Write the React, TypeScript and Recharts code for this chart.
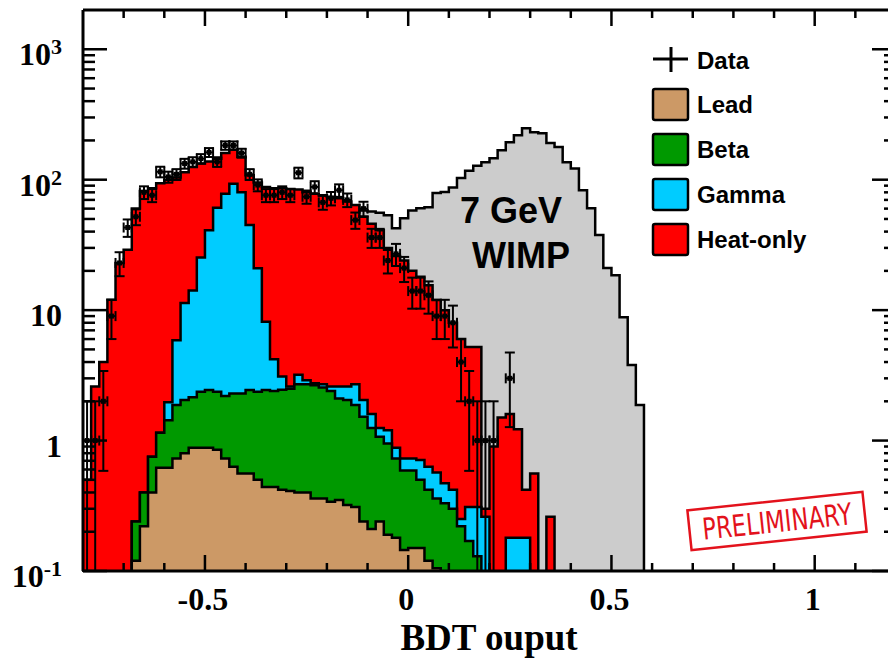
import React from 'react';
import { ComposedChart, Area, Scatter, XAxis, YAxis, ErrorBar } from 'recharts';

// ---- binning (bin width 0.02 starting at -0.8) ----
const BIN_START = -0.8;
const BIN_WIDTH = 0.02;

// ---- stacked background components (events per bin) ----
const lead = [
  0, 0, 0, 0, 0, 0, 0.12, 0.22, 0.4, 0.62,
  0.62, 0.73, 0.8, 0.88, 0.88, 0.88, 0.85, 0.73, 0.63, 0.56,
  0.56, 0.5, 0.44, 0.44, 0.42, 0.41, 0.4, 0.4, 0.36, 0.36,
  0.34, 0.35, 0.32, 0.31, 0.24, 0.21, 0.24, 0.19, 0.18, 0.145,
  0.15, 0.15, 0.12, 0.105, 0, 0, 0, 0, 0, 0,
  0, 0, 0, 0, 0, 0, 0, 0, 0, 0,
  0, 0, 0, 0, 0, 0, 0, 0, 0,
];
const beta = [
  0, 0, 0, 0, 0, 0, 0.12, 0.18, 0.35, 0.53,
  0.81, 1.14, 1.25, 1.27, 1.49, 1.56, 1.52, 1.47, 1.67, 1.74,
  1.88, 1.87, 2.0, 1.96, 2.03, 2.09, 2.3, 2.3, 2.29, 2.19,
  2.06, 1.75, 1.73, 1.56, 1.28, 1.04, 0.83, 0.76, 0.55, 0.445,
  0.44, 0.35, 0.3, 0.255, 0.33, 0.3, 0.22, 0.17, 0.13, 0,
  0, 0, 0, 0, 0, 0, 0, 0, 0, 0,
  0, 0, 0, 0, 0, 0, 0, 0, 0,
];
const gamma = [
  0, 0, 0, 0, 0, 0, 0, 0, 0, 0,
  0.54, 4.0, 9.3, 12, 23, 38.6, 58.6, 75.8, 90.7, 77.7,
  42.6, 18.6, 5.7, 1.8, 0.65, 0.1, 0.5, 0.2, 0.1, 0.15,
  0.2, 0.5, 0.55, 0.83, 0.53, 0.35, 0.18, 0.25, 0.15, 0.14,
  0.14, 0.21, 0.21, 0.21, 0.14, 0.12, 0.03, 0.14, 0.18, 0.26,
  0, 0, 0.18, 0.18, 0.18, 0, 0, 0, 0, 0,
  0, 0, 0, 0, 0, 0, 0, 0, 0,
];
const heatOnly = [
  0.5, 2.6, 4.0, 12, 23, 29, 59.8, 81.6, 85.3, 92.9,
  98, 98.1, 102.7, 110.8, 107.5, 97, 84, 82, 77, 70,
  63, 74, 79.9, 81.8, 82.9, 82.4, 80.8, 77.1, 75.3, 73.3,
  71.4, 69.4, 65.4, 61.3, 50, 44.4, 39.8, 28.8, 25.1, 23.3,
  19.3, 17.3, 14.9, 11.4, 9.5, 7.6, 5.75, 4.9, 4.9, 0.04,
  0.9, 1.5, 1.42, 1.04, 0.24, 0.56, 0, 0.26, 0, 0,
  0, 0, 0, 0, 0, 0, 0, 0, 0,
];
const wimp7GeV = [
  0, 0, 0, 0, 0, 0, 0, 0, 0, 0,
  0, 0, 0, 0, 0, 0, 0, 0, 0, 0,
  0, 0, 0, 0, 0, 0, 0, 0, 0, 0,
  0, 0, 0, 58, 58, 57, 55.7, 53.5, 42.5, 50.7,
  58, 60.5, 61.5, 79, 80.5, 87, 103, 117, 128, 136,
  146, 168, 194, 219, 248, 231, 227, 191, 178, 136,
  122, 83, 60.5, 37.6, 21, 18.5, 8.8, 3.8, 1.87,
];
// ---- observed data counts per bin ----
const dataCounts = [
  1, 1, 2, 9, 23, 43, 52, 80, 76, 115,
  105, 110, 133, 137, 145, 162, 137, 183, 183, 160,
  110, 91, 76, 76, 80, 76, 113, 74, 88, 67,
  72, 83, 70, 49, 60, 36, 36, 24, 27, 21,
  14, 14, 13, 9, 9, 8, 4, 2, 1, 1,
  1, 0, 3,
];

// ---- ticks ----
const xTicks = [-0.7, -0.6, -0.5, -0.4, -0.3, -0.2, -0.1, 0, 0.1, 0.2, 0.3, 0.4, 0.5, 0.6, 0.7, 0.8, 0.9, 1.0, 1.1];
const xMajorTicks = [-0.5, 0, 0.5, 1];
const xTickLabels = ['-0.5', '0', '0.5', '1'];
const yTicks = [
  0.1, 0.2, 0.3, 0.4, 0.5, 0.6, 0.7, 0.8, 0.9,
  1, 2, 3, 4, 5, 6, 7, 8, 9,
  10, 20, 30, 40, 50, 60, 70, 80, 90,
  100, 200, 300, 400, 500, 600, 700, 800, 900,
  1000,
];
const yMajorTicks = [0.1, 1, 10, 100, 1000];
const yTickLabels = [
  { base: '10', exp: '-1' },
  { base: '1', exp: '' },
  { base: '10', exp: '' },
  { base: '10', exp: '2' },
  { base: '10', exp: '3' },
];

const legendLabels = ['Lead', 'Beta', 'Gamma', 'Heat-only'];
const COLORS = {
  lead: '#CC9966',
  beta: '#009900',
  gamma: '#00CCFF',
  heat: '#FF0000',
  wimp: '#CCCCCC',
};
const legendColors = [COLORS.lead, COLORS.beta, COLORS.gamma, COLORS.heat];

const FLOOR = 0.01;
const pos = (v: number) => (v > 1e-6 ? v : FLOOR);

const histRows: any[] = [];
for (let i = 0; i <= lead.length; i++) {
  const x = +(BIN_START + i * BIN_WIDTH).toFixed(2);
  if (i === lead.length) {
    histRows.push({ x, leadTop: FLOOR, betaTop: FLOOR, gammaTop: FLOOR, total: FLOOR, wimp: FLOOR });
    continue;
  }
  const l = lead[i];
  const b = l + beta[i];
  const g = b + gamma[i];
  const t = g + heatOnly[i];
  histRows.push({ x, leadTop: pos(l), betaTop: pos(b), gammaTop: pos(g), total: pos(t), wimp: pos(wimp7GeV[i]) });
}

const dataPoints = dataCounts
  .map((n, i) => ({
    x: +(BIN_START + (i + 0.5) * BIN_WIDTH).toFixed(3),
    y: n,
    ey: [n - Math.max(n - Math.sqrt(n), 0.1), Math.sqrt(n)],
    ex: BIN_WIDTH / 2,
  }))
  .filter((p) => p.y > 0);

const SERIF = "'Liberation Serif', 'Times New Roman', serif";
const SANS = "'Liberation Sans', Arial, Helvetica, sans-serif";

const isMajor = (arr: number[], v: number) => arr.findIndex((m) => Math.abs(m - v) < 1e-6 * Math.max(1, Math.abs(m)));

const BottomTick = (props: any) => {
  const { x, y, payload } = props;
  const idx = isMajor(xMajorTicks, payload.value);
  const major = idx >= 0;
  return (
    <g>
      <line x1={x} x2={x} y1={y} y2={y - (major ? 16 : 8)} stroke="#000" strokeWidth={2.5} />
      {major && (
        <text x={x - 2} y={y + 39} textAnchor="middle" fontFamily={SERIF} fontWeight="bold" fontSize={32} fill="#000">
          {xTickLabels[idx]}
        </text>
      )}
    </g>
  );
};

const TopTick = (props: any) => {
  const { x, y, payload } = props;
  const major = isMajor(xMajorTicks, payload.value) >= 0;
  return <line x1={x} x2={x} y1={y} y2={y + (major ? 16 : 8)} stroke="#000" strokeWidth={2.5} />;
};

const LeftTick = (props: any) => {
  const { x, y, payload } = props;
  const idx = isMajor(yMajorTicks, payload.value);
  const major = idx >= 0;
  const lab = major ? yTickLabels[idx] : null;
  return (
    <g>
      <line x1={x} x2={x + (major ? 24 : 12)} y1={y} y2={y} stroke="#000" strokeWidth={2.5} />
      {lab && (
        <text x={x - 21} y={y + 16} textAnchor="end" fontFamily={SERIF} fontWeight="bold" fontSize={32} fill="#000">
          {lab.base}
          {lab.exp ? (
            <tspan dy={-11} fontSize={22}>
              {lab.exp}
            </tspan>
          ) : null}
        </text>
      )}
    </g>
  );
};

const RightTick = (props: any) => {
  const { x, y, payload } = props;
  const major = isMajor(yMajorTicks, payload.value) >= 0;
  return <line x1={x} x2={x - (major ? 24 : 12)} y1={y} y2={y} stroke="#000" strokeWidth={2.5} />;
};

const DataMarker = (props: any) => {
  const { cx, cy } = props;
  if (cx == null || cy == null) return <g />;
  return <rect x={cx - 2.5} y={cy - 2.5} width={5} height={5} fill="#000" />;
};

const NoMarker = () => <g />;

const axisLine = { stroke: '#000', strokeWidth: 3 };

export default function App() {
  return (
    <div style={{ position: 'absolute', left: 0, top: 0, width: 888, height: 659, overflow: 'hidden', background: '#fff' }}>
      <ComposedChart width={904} height={659} data={histRows} margin={{ top: 9, right: 7, bottom: 87, left: 82 }}>
        <XAxis
          xAxisId={0}
          dataKey="x"
          type="number"
          domain={[-0.8, 1.2]}
          allowDataOverflow
          ticks={xTicks}
          interval={0}
          height={1}
          tickSize={0}
          tickMargin={0}
          tickLine={false}
          axisLine={axisLine}
          tick={(p: any) => <BottomTick {...p} />}
        />
        <XAxis
          xAxisId="top"
          orientation="top"
          dataKey="x"
          type="number"
          domain={[-0.8, 1.2]}
          allowDataOverflow
          ticks={xTicks}
          interval={0}
          height={1}
          tickSize={0}
          tickMargin={0}
          tickLine={false}
          axisLine={axisLine}
          tick={(p: any) => <TopTick {...p} />}
        />
        <YAxis
          yAxisId={0}
          type="number"
          scale="log"
          domain={[0.1, 2000]}
          allowDataOverflow
          ticks={yTicks}
          interval={0}
          width={1}
          tickSize={0}
          tickMargin={0}
          tickLine={false}
          axisLine={axisLine}
          tick={(p: any) => <LeftTick {...p} />}
        />
        <YAxis
          yAxisId="r"
          orientation="right"
          type="number"
          scale="log"
          domain={[0.1, 2000]}
          allowDataOverflow
          ticks={yTicks}
          interval={0}
          width={1}
          tickSize={0}
          tickMargin={0}
          tickLine={false}
          axisLine={axisLine}
          tick={(p: any) => <RightTick {...p} />}
        />
        <Area type="stepAfter" dataKey="wimp" baseValue={0.1} fill={COLORS.wimp} fillOpacity={1} stroke="#000" strokeWidth={2.5} dot={false} activeDot={false} isAnimationActive={false} />
        <Area type="stepAfter" dataKey="total" baseValue={0.1} fill={COLORS.heat} fillOpacity={1} stroke="#000" strokeWidth={2.5} dot={false} activeDot={false} isAnimationActive={false} />
        <Area type="stepAfter" dataKey="gammaTop" baseValue={0.1} fill={COLORS.gamma} fillOpacity={1} stroke="#000" strokeWidth={2.5} dot={false} activeDot={false} isAnimationActive={false} />
        <Area type="stepAfter" dataKey="betaTop" baseValue={0.1} fill={COLORS.beta} fillOpacity={1} stroke="#000" strokeWidth={2.5} dot={false} activeDot={false} isAnimationActive={false} />
        <Area type="stepAfter" dataKey="leadTop" baseValue={0.1} fill={COLORS.lead} fillOpacity={1} stroke="#000" strokeWidth={2.5} dot={false} activeDot={false} isAnimationActive={false} />
        <Scatter xAxisId="top" data={dataPoints} dataKey="y" shape={(p: any) => <NoMarker {...p} />} isAnimationActive={false} />
        <Scatter data={dataPoints} dataKey="y" fill="#000" shape={(p: any) => <DataMarker {...p} />} isAnimationActive={false}>
          <ErrorBar dataKey="ey" direction="y" width={5} stroke="#000" strokeWidth={2} />
          <ErrorBar dataKey="ex" direction="x" width={5} stroke="#000" strokeWidth={2} />
        </Scatter>
      </ComposedChart>
      <svg width={888} height={659} style={{ position: 'absolute', left: 0, top: 0, pointerEvents: 'none' }}>
        {/* legend */}
        <g fontFamily={SANS} fontWeight="bold" fontSize={24} fill="#000">
          <line x1={653} x2={688} y1={59} y2={59} stroke="#000" strokeWidth={3} />
          <line x1={671} x2={671} y1={47} y2={72} stroke="#000" strokeWidth={3} />
          <text x={697} y={69}>Data</text>
          {legendLabels.map((lab, i) => (
            <g key={lab}>
              <rect x={653} y={89 + i * 45} width={35} height={31} rx={2} fill={legendColors[i]} stroke="#000" strokeWidth={2.5} />
              <text x={697} y={113 + i * 45}>{lab}</text>
            </g>
          ))}
        </g>
        {/* signal annotation */}
        <g fontFamily={SANS} fontWeight="bold" fontSize={36} fill="#000">
          <text x={460} y={223}>7 GeV</text>
          <text x={472} y={268}>WIMP</text>
        </g>
        {/* axis title */}
        <text x={489} y={650} textAnchor="middle" fontFamily={SERIF} fontWeight="bold" fontSize={37} fill="#000">
          BDT ouput
        </text>
        {/* preliminary stamp */}
        <g transform="translate(777,521) rotate(-6)">
          <rect x={-88} y={-20} width={176} height={40} fill="none" stroke="#E3121C" strokeWidth={2.5} />
          <text x={0} y={11} textAnchor="middle" fontFamily="'Liberation Sans Narrow', 'DejaVu Sans Condensed', Arial, sans-serif" fontSize={30} fill="#E3121C" textLength={150} lengthAdjust="spacingAndGlyphs">
            PRELIMINARY
          </text>
        </g>
      </svg>
    </div>
  );
}
